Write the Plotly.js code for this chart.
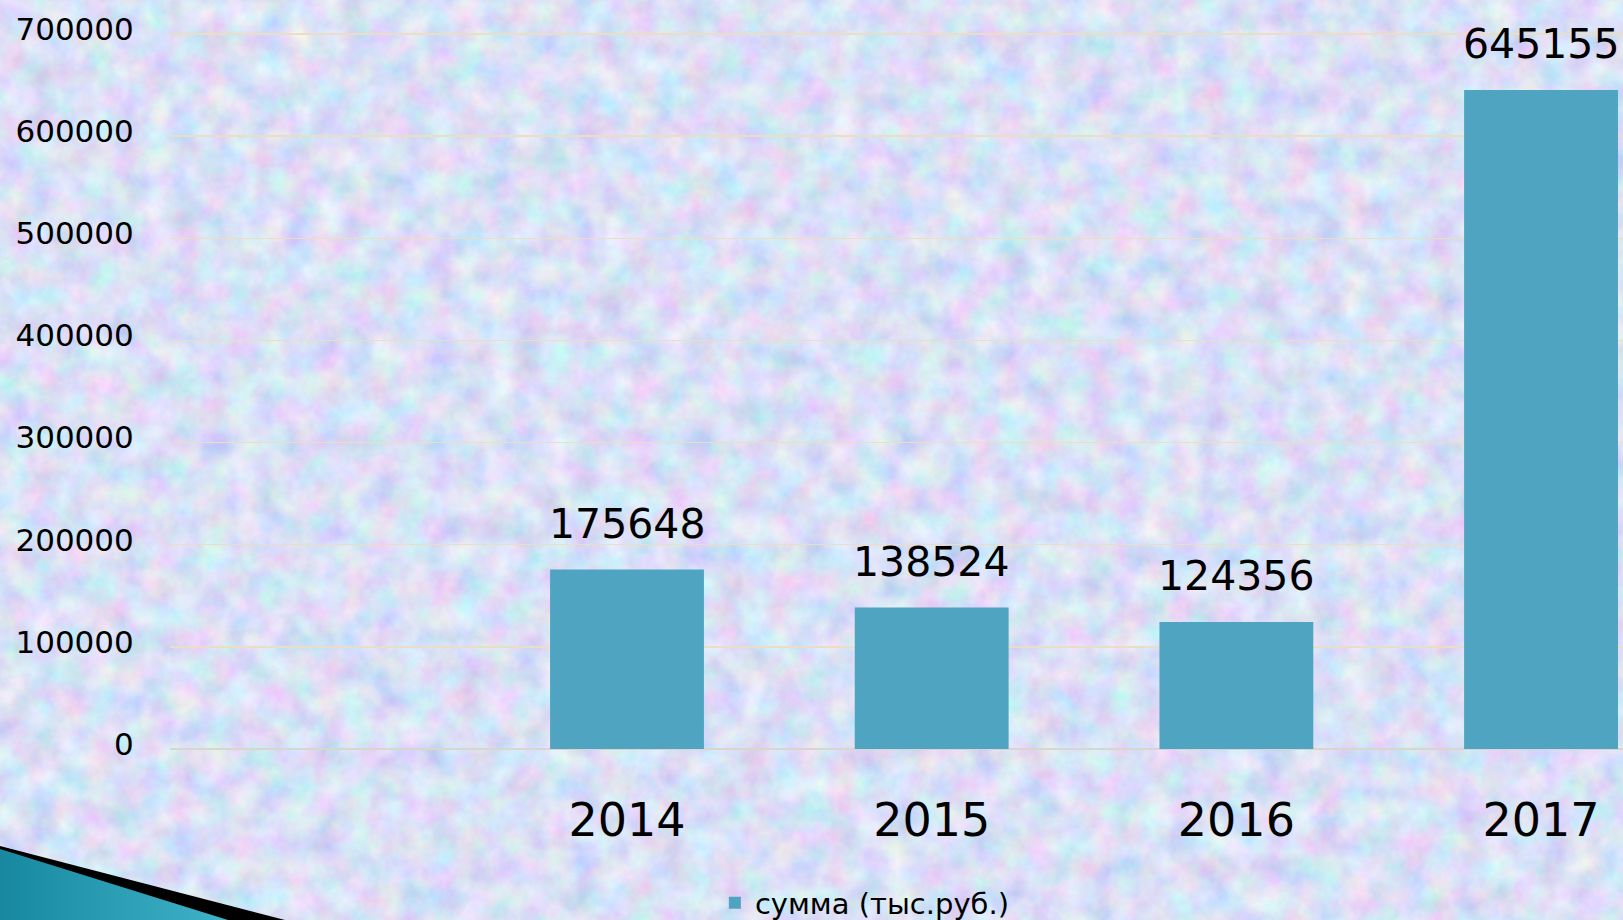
<!DOCTYPE html>
<html>
<head>
<meta charset="utf-8">
<script src="https://cdn.plot.ly/plotly-3.0.1.min.js"></script>
<style>
  html, body { margin: 0; padding: 0; width: 1623px; height: 920px; overflow: hidden; background: #bfcdf2; }
  #bg { position: absolute; left: 0; top: 0; }
  #chart { position: absolute; left: 0; top: 0; width: 1623px; height: 920px; }
  #deco { position: absolute; left: 0; top: 0; pointer-events: none; }
</style>
</head>
<body>
<svg id="bg" width="1623" height="920">
  <defs>
    <filter id="noise" x="0" y="0" width="100%" height="100%">
      <feTurbulence type="fractalNoise" baseFrequency="0.035" numOctaves="4" seed="7" result="t"/>
      <feColorMatrix in="t" type="matrix"
        values="0.60 0 0 0 0.40
                0 0.50 0 0 0.50
                0 0 0.30 0 0.77
                0 0 0 0 1"/>
    </filter>
  </defs>
  <rect width="1623" height="920" filter="url(#noise)"/>
</svg>
<div id="chart"></div>
<svg id="deco" width="1623" height="920">
  <defs>
    <linearGradient id="teal" x1="0" y1="0" x2="1" y2="0">
      <stop offset="0" stop-color="#17889f"/>
      <stop offset="1" stop-color="#3fb3c9"/>
    </linearGradient>
  </defs>
  <polygon points="0,846 285,920 0,920" fill="#000"/>
  <polygon points="0,849 228,920 0,920" fill="url(#teal)"/>
</svg>
<script>
const years = [2014, 2015, 2016, 2017];
const amounts = [175648, 138524, 124356, 645155];
const amountLabels = ["175648", "138524", "124356", "645155"];
const seriesName = "сумма (тыс.руб.)";
const yTicks = [0, 100000, 200000, 300000, 400000, 500000, 600000, 700000];
const yTickText = ["0", "100000", "200000", "300000", "400000", "500000", "600000", "700000"];

const font = "DejaVu Sans, sans-serif";

const trace = {
  type: "bar",
  x: years,
  y: amounts,
  name: seriesName,
  width: 0.505,
  marker: { color: "#4fa4c2", line: { width: 0 } },
  showlegend: true,
  hoverinfo: "x+y"
};

const annotations = years.map((yr, i) => ({
  x: yr, y: amounts[i], xref: "x", yref: "y",
  text: amountLabels[i], showarrow: false,
  yanchor: "middle", yshift: 46,
  font: { family: font, size: 41, color: "#000" }
}));

const layout = {
  width: 1623, height: 920,
  margin: { l: 170, r: 0, t: 32, b: 171, autoexpand: false },
  paper_bgcolor: "rgba(0,0,0,0)",
  plot_bgcolor: "rgba(0,0,0,0)",
  showlegend: true,
  legend: {
    orientation: "h", x: 0.375, xanchor: "left",
    yref: "container", y: 0.0185, yanchor: "middle",
    font: { family: font, size: 29, color: "#000" },
    bgcolor: "rgba(0,0,0,0)"
  },
  xaxis: {
    type: "linear",
    range: [2012.5, 2017.269],
    tickvals: years,
    ticktext: years.map(String),
    ticks: "outside", ticklen: 31, tickcolor: "rgba(0,0,0,0)",
    showgrid: false, zeroline: false, showline: false,
    tickfont: { family: font, size: 46, color: "#000" },
    fixedrange: true
  },
  yaxis: {
    range: [0, 702000],
    tickvals: yTicks,
    ticktext: yTickText,
    ticks: "outside", ticklen: 29, tickcolor: "rgba(0,0,0,0)",
    ticklabelshift: -5,
    showgrid: true, gridcolor: "#eadfc6", gridwidth: 1.5,
    zeroline: true, zerolinecolor: "#d9d6cf", zerolinewidth: 2,
    showline: false,
    tickfont: { family: font, size: 31, color: "#000" },
    fixedrange: true
  },
  annotations: annotations
};

Plotly.newPlot("chart", [trace], layout, { displayModeBar: false, staticPlot: true });
</script>
</body>
</html>
